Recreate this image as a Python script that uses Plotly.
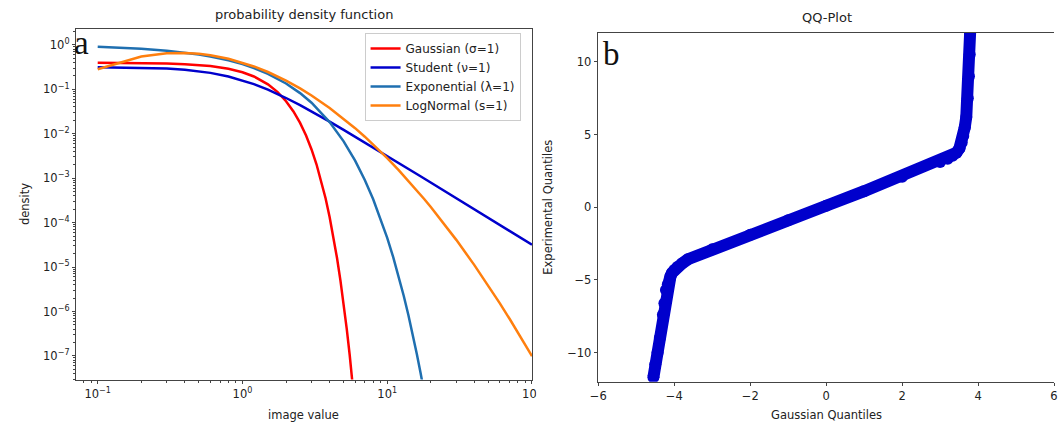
import plotly.graph_objects as go

# ---------------- data ----------------
x_gauss = [0.1, 0.2, 0.3, 0.4, 0.5, 0.6, 0.8, 1.0, 1.2, 1.5, 1.75, 2.0, 2.25, 2.5, 2.75,
           3.0, 3.25, 3.5, 3.75, 4.0, 4.25, 4.5, 4.75, 5.0, 5.25, 5.5, 5.75, 6.0]
y_gauss = [0.3970, 0.3910, 0.3814, 0.3683, 0.3521, 0.3332, 0.2897, 0.2420, 0.1942, 0.1295,
           0.08628, 0.05399, 0.03174, 0.01753, 0.009093, 0.004432, 0.002029, 0.0008727,
           0.0003526, 0.0001338, 4.772e-5, 1.598e-5, 5.029e-6, 1.487e-6, 4.128e-7,
           1.077e-7, 2.639e-8, 6.076e-9]

x_student = [0.1, 0.2, 0.3, 0.4, 0.5, 0.6, 0.8, 1.0, 1.2, 1.5, 1.75, 2.0, 2.5, 3.0, 4.0, 5.0,
             6.0, 7.0, 8.0, 10, 12, 14, 16, 18, 20, 25, 30, 40, 50, 60, 70, 80, 90, 100]
y_student = [0.3152, 0.3061, 0.2920, 0.2744, 0.2546, 0.2341, 0.1941, 0.1592, 0.1305, 0.09794,
             0.07835, 0.06366, 0.04390, 0.03183, 0.01872, 0.01224, 0.008603, 0.006366,
             0.004905, 0.003152, 0.002196, 0.001616, 0.001239, 0.0009809, 0.0007938,
             0.0005085, 0.0003533, 0.0001988, 0.0001273, 8.840e-5, 6.495e-5, 4.973e-5,
             3.929e-5, 3.183e-5]

x_expo = [0.1, 0.2, 0.3, 0.4, 0.5, 0.6, 0.8, 1.0, 1.2, 1.5, 2.0, 2.5, 3.0, 4.0, 5.0, 6.0,
          7.0, 8.0, 9.0, 10, 11, 12, 13, 14, 15, 16, 17, 18]
y_expo = [0.9048, 0.8187, 0.7408, 0.6703, 0.6065, 0.5488, 0.4493, 0.3679, 0.3012, 0.2231,
          0.1353, 0.08208, 0.04979, 0.01832, 0.006738, 0.002479, 0.0009119, 0.0003355,
          0.0001234, 4.540e-5, 1.670e-5, 6.144e-6, 2.260e-6, 8.315e-7, 3.059e-7,
          1.125e-7, 4.140e-8, 1.523e-8]

x_lognorm = [0.1, 0.2, 0.3, 0.4, 0.5, 0.6, 0.8, 1.0, 1.2, 1.5, 2.0, 2.5, 3.0, 4.0, 5.0, 6.0,
             7.0, 8.0, 10, 12, 14, 16, 18, 20, 25, 30, 40, 50, 60, 70, 80, 90, 100]
y_lognorm = [0.2816, 0.5463, 0.6442, 0.6554, 0.6275, 0.5836, 0.4864, 0.3989, 0.3270, 0.2450,
             0.1569, 0.1049, 0.07273, 0.03815, 0.02185, 0.01336, 0.008583, 0.005740,
             0.002816, 0.001517, 0.0008759, 0.0005340, 0.0003400, 0.0002244, 8.976e-5,
             4.091e-5, 1.107e-5, 3.791e-6, 1.523e-6, 6.860e-7, 3.374e-7, 1.778e-7, 9.895e-8]

series_names = ["Gaussian (σ=1)", "Student (ν=1)", "Exponential (λ=1)", "LogNormal (s=1)"]
series_colors = ["#ff0000", "#0000cc", "#1f6fb0", "#ff7f0e"]

qq_x = [-4.55, -4.50, -4.44, -4.38, -4.30, -4.26, -4.22, -4.17, -4.13, -4.10, -4.06,
        -4.00, -3.92, -3.80, -3.64, -3.0, -2.0, -1.0, 0.0, 1.0, 2.0, 3.0, 3.2, 3.33,
        3.43, 3.51, 3.57, 3.61, 3.65, 3.69, 3.73, 3.76, 3.78, 3.79, 3.80]
qq_y = [-11.7, -10.8, -10.0, -9.0, -7.4, -6.6, -5.7, -5.3, -5.0, -4.75, -4.52,
        -4.32, -4.12, -3.88, -3.58, -2.9, -1.9, -0.9, 0.1, 1.1, 2.1, 3.1, 3.33, 3.53,
        3.75, 4.05, 4.45, 4.9, 5.5, 6.2, 7.5, 9.0, 10.5, 12.0, 12.5]

log_tick_vals_x = [0.1, 1, 10, 100]
log_tick_text_x = ["10<sup>−1</sup>", "10<sup>0</sup>", "10<sup>1</sup>", "10<sup>2</sup>"]
log_tick_vals_y = [1, 1e-1, 1e-2, 1e-3, 1e-4, 1e-5, 1e-6, 1e-7]
log_tick_text_y = ["10<sup>0</sup>", "10<sup>−1</sup>", "10<sup>−2</sup>", "10<sup>−3</sup>",
                   "10<sup>−4</sup>", "10<sup>−5</sup>", "10<sup>−6</sup>", "10<sup>−7</sup>"]
qq_xticks = [-6, -4, -2, 0, 2, 4, 6]
qq_yticks = [-10, -5, 0, 5, 10]

# ---------------- figure ----------------
W, H = 1064, 425


def px(x):
    return x / W


def py(y):
    return 1 - y / H


fig = go.Figure()
for xs, ys, name, col in zip([x_gauss, x_student, x_expo, x_lognorm],
                             [y_gauss, y_student, y_expo, y_lognorm],
                             series_names, series_colors):
    fig.add_trace(go.Scatter(x=xs, y=ys, mode="lines", name=name,
                             line=dict(color=col, width=2.5),
                             xaxis="x", yaxis="y"))

fig.add_trace(go.Scatter(x=qq_x, y=qq_y, mode="lines+markers", showlegend=False,
                         line=dict(color="#0000cc", width=12),
                         marker=dict(color="#0000cc", size=12),
                         xaxis="x2", yaxis="y2"))

axcol = "#444444"
tickfont = dict(family="DejaVu Sans", size=11.5, color="#222222")
minor_x = [m * 10 ** e for e in range(-2, 3) for m in range(2, 10)]
minor_y = [m * 10 ** e for e in range(-9, 1) for m in range(2, 10)]

common = dict(showline=True, linecolor=axcol, linewidth=1.2, ticks="outside", ticklen=3.5,
              tickwidth=1, tickcolor=axcol, showgrid=False, zeroline=False,
              tickfont=tickfont)

fig.update_layout(
    width=W, height=H, margin=dict(l=0, r=0, t=0, b=0),
    paper_bgcolor="white", plot_bgcolor="white",
    font=dict(family="DejaVu Sans", color="#222222"),
    xaxis=dict(domain=[px(69.6), px(533)], type="log", range=[-1.147, 2.0], mirror=True,
               tickvals=log_tick_vals_x, ticktext=log_tick_text_x, anchor="y",
               minor=dict(ticks="outside", ticklen=2, tickcolor=axcol, tickvals=minor_x,
                          showgrid=False),
               **common),
    yaxis=dict(domain=[py(379.5), py(29.3)], type="log", range=[-7.53, 0.35], mirror=True,
               tickvals=log_tick_vals_y, ticktext=log_tick_text_y, anchor="x",
               minor=dict(ticks="outside", ticklen=2, tickcolor=axcol, tickvals=minor_y,
                          showgrid=False),
               **common),
    xaxis2=dict(domain=[px(600.5), 1.0], range=[-6, 6], mirror=True, tickvals=qq_xticks,
                anchor="y2", **common),
    yaxis2=dict(domain=[py(381.7), py(32.7)], range=[-12, 12], mirror=False,
                tickvals=qq_yticks, anchor="x2", **common),
    legend=dict(x=px(362.7), y=py(33), xanchor="left", yanchor="top",
                bordercolor="#cccccc", borderwidth=1, bgcolor="white",
                font=dict(family="DejaVu Sans", size=12, color="#222222"),
                itemwidth=30, tracegroupgap=0),
    showlegend=True,
)

# the reference image is cropped just right of the left panel (cuts the last tick label)
fig.add_shape(type="rect", xref="paper", yref="paper", x0=px(537.5), x1=px(585),
              y0=py(403), y1=py(382), fillcolor="white", line=dict(width=0), layer="above")

ann = [
    dict(text="probability density function", x=px(301), y=py(15), size=13),
    dict(text="QQ-Plot", x=px(833), y=py(17.5), size=13),
    dict(text="image value", x=px(301), y=py(415), size=11.5),
    dict(text="Gaussian Quantiles", x=px(833), y=py(415), size=11.5),
]
for a in ann:
    fig.add_annotation(text=a["text"], x=a["x"], y=a["y"], xref="paper", yref="paper",
                       xanchor="center", yanchor="middle", showarrow=False,
                       font=dict(family="DejaVu Sans", size=a["size"], color="#222222"))
for t, x, y in [("density", 18, 204.4), ("Experimental Quantiles", 549, 207)]:
    fig.add_annotation(text=t, x=px(x), y=py(y), xref="paper", yref="paper", textangle=-90,
                       xanchor="center", yanchor="middle", showarrow=False,
                       font=dict(family="DejaVu Sans", size=11.5, color="#222222"))
for t, x, y in [("a", 65, 43), ("b", 603, 54)]:
    fig.add_annotation(text=t, x=px(x), y=py(y), xref="paper", yref="paper",
                       xanchor="left", yanchor="middle", showarrow=False,
                       font=dict(family="Liberation Serif", size=33, color="#111111"))

fig.write_html("out.html", config={"displayModeBar": False})
